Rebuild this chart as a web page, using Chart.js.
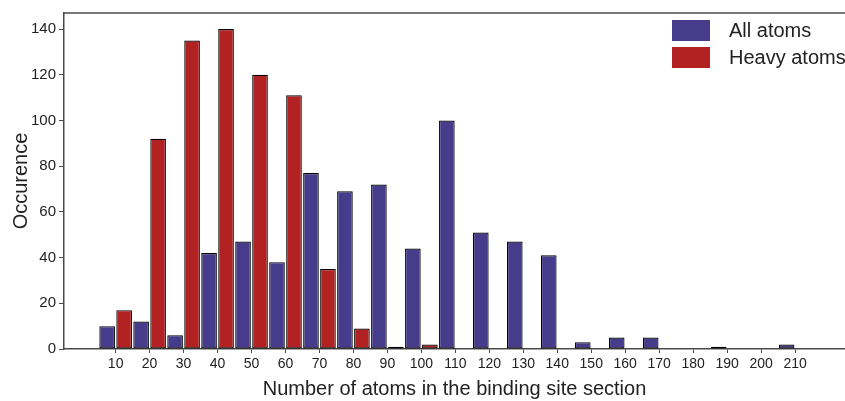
<!DOCTYPE html>
<html><head><meta charset="utf-8">
<script src="https://cdn.jsdelivr.net/npm/chart.js@4/dist/chart.umd.min.js"></script>
<style>html,body{margin:0;padding:0;background:#fff;}canvas{display:block;}</style>
</head><body>
<canvas id="c" width="845" height="401"></canvas>
<script>
const binLabels = [10,20,30,40,50,60,70,80,90,100,110,120,130,140,150,160,170,180,190,200,210];
const allAtoms   = [10,12,6,42,47,38,77,69,72,44,100,51,47,41,3,5,5,0,1,0,2];
const heavyAtoms = [17,92,135,140,120,111,35,9,1,2,0,0,0,0,0,0,0,0,0,0,0];
const yTicks = [0,20,40,60,80,100,120,140];
const seriesNames = ['All atoms','Heavy atoms'];
const seriesColors = ['#473C8B','#B22222'];

const FONT = "'Liberation Sans', Arial, sans-serif";
const AXIS = '#4a4a4a';

const framePlugin = {
  id: 'frameLegend',
  afterDraw(chart) {
    const {ctx, chartArea} = chart;
    ctx.save();
    ctx.strokeStyle = AXIS;
    ctx.lineWidth = 1.5;
    ctx.beginPath();
    ctx.moveTo(chartArea.left, chartArea.top);
    ctx.lineTo(chartArea.right, chartArea.top);
    ctx.stroke();
    // legend
    const boxX = 672, boxW = 38, boxH = 21;
    const rows = [20, 47];
    ctx.font = '20px ' + FONT;
    ctx.textBaseline = 'middle';
    seriesNames.forEach((name, i) => {
      ctx.fillStyle = seriesColors[i];
      ctx.fillRect(boxX, rows[i], boxW, boxH);
      ctx.fillStyle = '#222';
      ctx.fillText(name, 729, rows[i] + boxH / 2 + 1);
    });
    ctx.restore();
  }
};

const mk = (vals) => vals.map((v, i) => ({x: binLabels[i], y: v}));

new Chart(document.getElementById('c'), {
  type: 'bar',
  data: {
    datasets: [
      {label: seriesNames[0], data: mk(allAtoms), backgroundColor: seriesColors[0], borderColor: '#000',
       borderSkipped: false, borderWidth: c => (c.raw && c.raw.y > 0 ? 1.2 : 0)},
      {label: seriesNames[1], data: mk(heavyAtoms), backgroundColor: seriesColors[1], borderColor: '#000',
       borderSkipped: false, borderWidth: c => (c.raw && c.raw.y > 0 ? 1.2 : 0)}
    ]
  },
  options: {
    responsive: false,
    devicePixelRatio: 1,
    animation: false,
    layout: {padding: {top: 13, right: 0, left: 0, bottom: 0}},
    datasets: {bar: {categoryPercentage: 1.0, barPercentage: 0.92}},
    plugins: {legend: {display: false}, tooltip: {enabled: false}},
    scales: {
      x: {
        type: 'linear',
        min: -5.2, max: 224.7,
        offset: false,
        afterBuildTicks: s => { s.ticks = binLabels.map(v => ({value: v})); },
        afterFit: s => { s.height = 52; },
        grid: {display: true, drawOnChartArea: false, drawTicks: true, tickLength: 4, color: AXIS, offset: false},
        border: {display: true, color: AXIS, width: 1.5},
        ticks: {font: {family: FONT, size: 14}, color: '#222', padding: 3, maxRotation: 0, autoSkip: false,
                callback: v => String(v)},
        title: {display: true, text: 'Number of atoms in the binding site section',
                font: {family: FONT, size: 20}, color: '#222', padding: {top: 0, bottom: 0}}
      },
      y: {
        min: 0, max: 147,
        afterBuildTicks: s => { s.ticks = yTicks.map(v => ({value: v})); },
        afterFit: s => { s.width = 64; },
        grid: {display: true, drawOnChartArea: false, drawTicks: true, tickLength: 5, color: AXIS},
        border: {display: true, color: AXIS, width: 1.5},
        ticks: {font: {family: FONT, size: 15}, color: '#222', padding: 3},
        title: {display: true, text: 'Occurence', font: {family: FONT, size: 20}, color: '#222',
                padding: {top: 9, bottom: 0}}
      }
    }
  },
  plugins: [framePlugin]
});
</script>
</body></html>
